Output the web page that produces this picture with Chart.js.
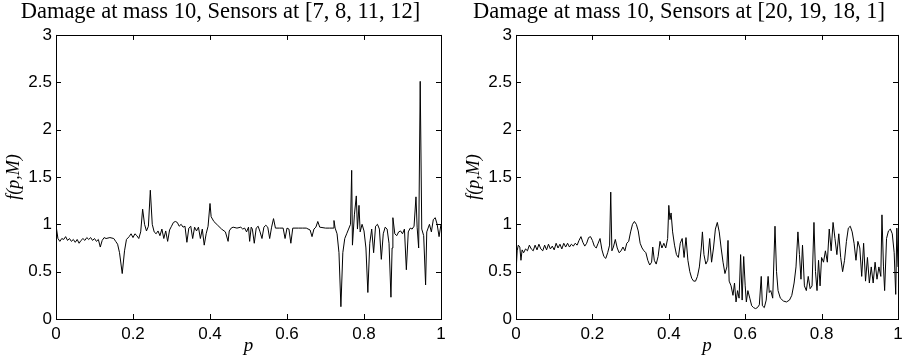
<!DOCTYPE html>
<html lang="en">
<head>
    <meta charset="UTF-8">
    <title>Damage at mass 10</title>
    <script src="https://cdn.jsdelivr.net/npm/chart.js"></script>
    <style>
        body { margin: 0; background: #fff; overflow: hidden; }
        .wrap { position: relative; width: 908px; height: 361px; overflow: hidden; }
        canvas { position: absolute; top: 0; }
    </style>
</head>
<body>
<div class="wrap">
    <canvas id="leftChart" width="454" height="361" style="left:0"></canvas>
    <canvas id="rightChart" width="454" height="361" style="left:460px"></canvas>
</div>

<script type="text/javascript">

    // tick labels
    const xTicks = ['0', '0.2', '0.4', '0.6', '0.8', '1'];
    const yTicks = ['0', '0.5', '1', '1.5', '2', '2.5', '3'];

    // left panel: sensors at [7, 8, 11, 12]
    const leftP = [0, 0.005, 0.01, 0.015, 0.02, 0.025, 0.03, 0.035, 0.04, 0.045, 0.05, 0.055, 0.06, 0.065, 0.07, 0.075, 0.08, 0.085, 0.09, 0.095,
        0.1, 0.105, 0.11, 0.115, 0.12, 0.125, 0.13, 0.14, 0.15, 0.155, 0.16, 0.165, 0.172, 0.178, 0.183, 0.19, 0.195,
        0.2, 0.205, 0.21, 0.215, 0.22, 0.225, 0.23, 0.235, 0.24, 0.245, 0.25, 0.255, 0.26, 0.265, 0.27, 0.275, 0.28, 0.285, 0.29, 0.295,
        0.3, 0.305, 0.31, 0.315, 0.32, 0.325, 0.33, 0.335, 0.34, 0.345, 0.35, 0.355, 0.36, 0.365, 0.37, 0.375, 0.38, 0.385, 0.39, 0.395,
        0.4, 0.403, 0.41, 0.42, 0.43, 0.44, 0.447, 0.45, 0.455, 0.46, 0.47, 0.48, 0.485, 0.49, 0.495,
        0.5, 0.503, 0.507, 0.51, 0.515, 0.52, 0.525, 0.53, 0.535, 0.54, 0.545, 0.55, 0.555, 0.56, 0.565, 0.57, 0.58, 0.59, 0.595,
        0.6, 0.605, 0.61, 0.615, 0.63, 0.64, 0.65, 0.66, 0.665, 0.67, 0.675, 0.68, 0.685,
        0.7, 0.71, 0.72, 0.722, 0.725, 0.73, 0.735, 0.74, 0.745, 0.75, 0.755, 0.76, 0.765, 0.768, 0.77, 0.775, 0.78, 0.783, 0.787, 0.79, 0.795,
        0.8, 0.805, 0.81, 0.815, 0.82, 0.825, 0.83, 0.835, 0.84, 0.845, 0.85, 0.855, 0.86, 0.865, 0.87, 0.873, 0.875, 0.88, 0.885, 0.89, 0.895,
        0.9, 0.905, 0.91, 0.915, 0.92, 0.925, 0.93, 0.935, 0.938, 0.942, 0.946, 0.95, 0.955, 0.96, 0.963, 0.97, 0.975, 0.98, 0.985, 0.99, 0.995, 1.0];
    const leftF = [0.99, 0.85, 0.82, 0.85, 0.84, 0.87, 0.83, 0.85, 0.82, 0.84, 0.81, 0.84, 0.80, 0.83, 0.85, 0.83, 0.86, 0.84, 0.86, 0.83,
        0.85, 0.82, 0.84, 0.76, 0.83, 0.86, 0.85, 0.86, 0.85, 0.82, 0.79, 0.70, 0.48, 0.72, 0.84, 0.87, 0.90,
        0.86, 0.90, 0.88, 0.85, 0.92, 1.16, 1.0, 0.93, 0.98, 1.36, 1.0, 0.92, 0.90, 0.93, 0.88, 0.95, 0.85, 0.93, 0.82, 0.94,
        0.98, 1.02, 1.03, 1.02, 0.98, 1.0, 0.97, 0.98, 0.81, 0.96, 0.98, 0.85, 0.97, 0.93, 0.97, 0.85, 0.95, 0.78, 0.90, 0.98,
        1.22, 1.08, 1.03, 0.99, 0.95, 0.92, 0.82, 0.93, 0.96, 0.97, 0.96, 0.97, 0.95, 0.96, 0.92,
        0.97, 0.82, 0.97, 0.95, 0.80, 0.96, 0.98, 0.92, 0.85, 0.97, 0.99, 0.97, 0.85, 0.97, 1.06, 0.96, 0.96, 0.96, 0.85,
        0.96, 0.95, 0.80, 0.96, 0.96, 0.96, 0.96, 0.94, 0.87, 0.95, 0.97, 1.03, 0.97,
        0.96, 0.96, 0.96, 1.04, 0.96, 0.90, 0.70, 0.13, 0.70, 0.85, 0.90, 0.95, 1.0, 1.57, 0.78, 1.10, 1.30, 0.95, 1.20, 0.92, 1.0,
        0.93, 0.75, 0.28, 0.80, 0.95, 0.70, 0.98, 1.0, 0.95, 0.63, 0.90, 0.97, 0.95, 0.80, 0.23, 0.75, 1.07, 0.90, 0.88, 0.92, 0.93,
        0.90, 0.95, 0.52, 0.92, 0.96, 0.95, 0.98, 1.29, 0.97, 0.75, 2.51, 0.95, 0.88, 0.36, 0.92, 1.0, 0.92, 1.05, 1.07, 1.0, 0.87, 1.0];

    // right panel: sensors at [20, 19, 18, 1]
    const rightP = [0, 0.003, 0.006, 0.01, 0.013, 0.016, 0.02, 0.025, 0.03, 0.035, 0.04, 0.045, 0.05, 0.055, 0.06, 0.065, 0.07, 0.075, 0.08, 0.085, 0.09, 0.095,
        0.1, 0.105, 0.11, 0.115, 0.12, 0.125, 0.13, 0.135, 0.14, 0.145, 0.15, 0.155, 0.16, 0.165, 0.17, 0.175, 0.18, 0.185, 0.19, 0.195,
        0.2, 0.205, 0.21, 0.215, 0.22, 0.225, 0.23, 0.235, 0.24, 0.245, 0.248, 0.251, 0.255, 0.26, 0.265, 0.27, 0.275, 0.28, 0.285, 0.29, 0.295,
        0.3, 0.305, 0.31, 0.315, 0.32, 0.325, 0.33, 0.335, 0.34, 0.345, 0.35, 0.355, 0.358, 0.362, 0.367, 0.372, 0.377, 0.382, 0.387, 0.392, 0.397,
        0.4, 0.403, 0.406, 0.41, 0.415, 0.42, 0.425, 0.43, 0.435, 0.44, 0.445, 0.45, 0.455, 0.46, 0.465, 0.47, 0.475, 0.48, 0.485, 0.488, 0.492, 0.497,
        0.502, 0.507, 0.512, 0.517, 0.522, 0.527, 0.532, 0.537, 0.542, 0.547, 0.552, 0.555, 0.558, 0.563, 0.568, 0.572, 0.576, 0.58, 0.584, 0.588, 0.592, 0.596,
        0.6, 0.603, 0.607, 0.612, 0.617, 0.622, 0.627, 0.632, 0.637, 0.642, 0.645, 0.65, 0.655, 0.66, 0.663, 0.667, 0.672, 0.678, 0.682, 0.686, 0.692,
        0.7, 0.708, 0.716, 0.722, 0.728, 0.733, 0.738, 0.742, 0.746, 0.75, 0.755, 0.76, 0.765, 0.77, 0.775, 0.78, 0.784, 0.788, 0.792, 0.796,
        0.8, 0.805, 0.81, 0.815, 0.82, 0.825, 0.83, 0.835, 0.84, 0.845, 0.85, 0.855, 0.86, 0.865, 0.87, 0.875, 0.88, 0.885, 0.89, 0.895,
        0.9, 0.905, 0.91, 0.915, 0.92, 0.925, 0.93, 0.935, 0.94, 0.945, 0.95, 0.955, 0.958, 0.962, 0.965, 0.97, 0.975, 0.98, 0.985, 0.99, 0.994, 0.997, 1.0];
    const rightF = [0.49, 0.72, 0.78, 0.76, 0.62, 0.73, 0.70, 0.74, 0.72, 0.78, 0.74, 0.72, 0.78, 0.73, 0.79, 0.74, 0.72, 0.78, 0.73, 0.79, 0.74, 0.77,
        0.73, 0.80, 0.75, 0.79, 0.74, 0.80, 0.76, 0.80, 0.76, 0.79, 0.77, 0.80, 0.78, 0.83, 0.87, 0.81, 0.77, 0.80, 0.86, 0.87,
        0.83, 0.77, 0.75, 0.80, 0.85, 0.73, 0.66, 0.64, 0.70, 0.78, 1.34, 0.72, 0.76, 0.84, 0.75, 0.70, 0.72, 0.76, 0.72, 0.80, 0.82,
        0.92, 1.0, 1.03, 1.0, 0.93, 0.80, 0.75, 0.72, 0.70, 0.62, 0.57, 0.60, 0.76, 0.62, 0.58, 0.66, 0.82, 0.75, 0.80, 0.75, 0.85,
        1.20, 1.05, 1.12, 0.92, 0.78, 0.68, 0.65, 0.80, 0.85, 0.65, 0.86, 0.62, 0.50, 0.43, 0.40, 0.40, 0.45, 0.55, 0.75, 0.92, 0.68, 0.58,
        0.62, 0.85, 0.60, 0.75, 0.95, 1.02, 0.92, 0.75, 0.60, 0.48, 0.55, 0.83, 0.40, 0.35, 0.25, 0.38, 0.18, 0.30, 0.22, 0.68, 0.20, 0.66,
        0.35, 0.18, 0.30, 0.22, 0.14, 0.12, 0.11, 0.12, 0.15, 0.45, 0.14, 0.12, 0.20, 0.45, 0.28, 0.30, 0.22, 0.98, 0.50, 0.30, 0.22,
        0.19, 0.18, 0.20, 0.25, 0.38, 0.55, 0.92, 0.68, 0.42, 0.78, 0.35, 0.30, 0.45, 0.32, 0.35, 1.02, 0.50, 0.30, 0.62, 0.35,
        0.65, 0.60, 0.72, 0.60, 0.95, 0.72, 1.02, 0.85, 0.68, 0.90, 0.65, 0.50, 0.62, 0.82, 0.96, 0.98, 0.92, 0.80, 0.62, 0.82,
        0.75, 0.45, 0.80, 0.40, 0.65, 0.38, 0.55, 0.38, 0.60, 0.42, 0.55, 0.45, 1.10, 0.55, 0.30, 0.85, 0.93, 0.95, 0.90, 0.70, 0.26, 0.96, 0.55];

    // MATLAB-style box with inward ticks on all four sides
    const boxTicks = {
        id: 'boxTicks',
        afterDraw(chart) {
            const ctx = chart.ctx;
            const a = chart.chartArea;
            const xs = chart.scales.x, ys = chart.scales.y;
            const len = 5;
            ctx.save();
            ctx.strokeStyle = '#000';
            ctx.lineWidth = 1;
            ctx.strokeRect(Math.round(a.left) + 0.5, Math.round(a.top) + 0.5, Math.round(a.right - a.left), Math.round(a.bottom - a.top));
            ctx.beginPath();
            xs.ticks.forEach(t => {
                const x = Math.round(xs.getPixelForValue(t.value)) + 0.5;
                ctx.moveTo(x, a.bottom); ctx.lineTo(x, a.bottom - len);
                ctx.moveTo(x, a.top); ctx.lineTo(x, a.top + len);
            });
            ys.ticks.forEach(t => {
                const y = Math.round(ys.getPixelForValue(t.value)) + 0.5;
                ctx.moveTo(a.left, y); ctx.lineTo(a.left + len, y);
                ctx.moveTo(a.right, y); ctx.lineTo(a.right - len, y);
            });
            ctx.stroke();
            ctx.restore();
        }
    };

    function makeChart(id, title, p, f, rightPad) {
        const ctx = document.getElementById(id);
        return new Chart(ctx, {
            type: 'scatter',
            data: {
                datasets: [{
                    data: p.map((v, i) => ({ x: v, y: f[i] })),
                    showLine: true,
                    borderColor: '#000',
                    borderWidth: 1,
                    pointRadius: 0,
                    tension: 0
                }]
            },
            options: {
                responsive: false,
                animation: false,
                devicePixelRatio: 1,
                layout: { padding: { left: 0, right: rightPad, top: 0, bottom: 0 } },
                plugins: {
                    legend: { display: false },
                    tooltip: { enabled: false },
                    title: {
                        display: true,
                        text: title,
                        color: '#000',
                        font: { family: '"Liberation Serif", "Times New Roman", serif', size: 22.5, weight: 'normal', lineHeight: 1.1 },
                        padding: { top: 0, bottom: 10.2 }
                    }
                },
                scales: {
                    x: {
                        type: 'linear',
                        min: 0, max: 1,
                        grid: { display: false, drawTicks: false },
                        border: { display: false },
                        ticks: {
                            stepSize: 0.2,
                            padding: 5,
                            color: '#000',
                            maxRotation: 0,
                            font: { family: '"Liberation Sans", Arial, sans-serif', size: 17 },
                            callback: (v, i) => xTicks[i]
                        },
                        title: {
                            display: true,
                            text: 'p',
                            color: '#000',
                            font: { family: '"Liberation Serif", "Times New Roman", serif', size: 19, style: 'italic' },
                            padding: { top: 0, bottom: 4 }
                        },
                        afterFit(scale) { scale.height = 42; }
                    },
                    y: {
                        min: 0, max: 3,
                        grid: { display: false, drawTicks: false },
                        border: { display: false },
                        ticks: {
                            stepSize: 0.5,
                            padding: 4,
                            color: '#000',
                            font: { family: '"Liberation Sans", Arial, sans-serif', size: 17 },
                            callback: (v, i) => yTicks[i]
                        },
                        title: {
                            display: true,
                            text: 'f(p,M)',
                            color: '#000',
                            font: { family: '"Liberation Serif", "Times New Roman", serif', size: 18, style: 'italic' },
                            padding: { top: 3, bottom: 0 }
                        },
                        afterFit(scale) { scale.width = 56; }
                    }
                }
            },
            plugins: [boxTicks]
        });
    }

    makeChart('leftChart', 'Damage at mass 10, Sensors at [7, 8, 11, 12]', leftP, leftF, 13);
    makeChart('rightChart', 'Damage at mass 10, Sensors at [20, 19, 18, 1]', rightP, rightF, 16);

</script>
</body>
</html>
